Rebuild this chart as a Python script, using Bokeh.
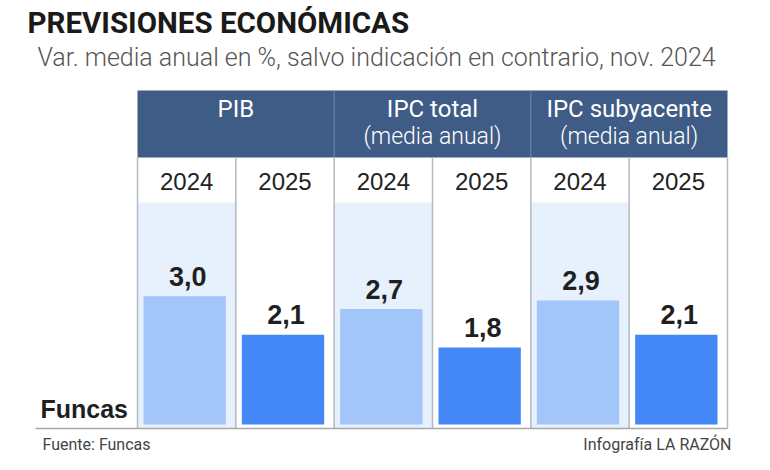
from bokeh.plotting import figure
from bokeh.models import Range1d
from bokeh.core.properties import value
from bokeh.embed import file_html
from bokeh.resources import INLINE

# ---------------- data ----------------
groups = ["PIB", "IPC total", "IPC subyacente"]
group_sub = ["", "(media anual)", "(media anual)"]
years = ["2024", "2025"]
values_2024 = [3.0, 2.7, 2.9]
values_2025 = [2.1, 1.8, 2.1]
value_labels_2024 = ["3,0", "2,7", "2,9"]
value_labels_2025 = ["2,1", "1,8", "2,1"]
title_text = "PREVISIONES ECONÓMICAS"
subtitle_text = "Var. media anual en %, salvo indicación en contrario, nov. 2024"
row_label = "Funcas"
footer_left = "Fuente: Funcas"
footer_right = "Infografía LA RAZÓN"

# ---------------- layout (pixels) ----------------
W, H = 754, 454
TABLE_L, TABLE_R = 137, 727
HEAD_T, HEAD_B = 90, 157
YEAR_B = 202
BASE = 424
BOTTOM_LINE = 428
PX_PER_UNIT = 42.75
LABEL_GAP = 10
BL = 0.37  # baseline compensation (fraction of font size)

HEADER_BLUE = "#3e5c85"
LIGHT_BG = "#e7f0fd"
BAR_LIGHT = "#a2c5fa"
BAR_DARK = "#4388f6"
GRID_GRAY = "#b3bac4"
TEXT_DARK = "#1f1f1f"


def by(baseline, size):
    return baseline - BL * size


p = figure(width=W, height=H,
           x_range=Range1d(0, W), y_range=Range1d(H, 0),
           output_backend="svg", toolbar_location=None, title_location=None,
           min_border=0, x_axis_location=None, y_axis_location=None)
p.grid.visible = False
p.outline_line_color = None
p.background_fill_color = "white"
p.border_fill_color = "white"
p.extra_y_ranges = {"val": Range1d((BASE - H) / PX_PER_UNIT, BASE / PX_PER_UNIT)}

ncols = len(groups) * len(years)
CW = (TABLE_R - TABLE_L) / ncols
col_left = [TABLE_L + i * CW for i in range(ncols)]
col_right = [TABLE_L + (i + 1) * CW for i in range(ncols)]
col_center = [TABLE_L + (i + 0.5) * CW for i in range(ncols)]
col_year = [years[i % len(years)] for i in range(ncols)]
col_value = []
col_label = []
for g in range(len(groups)):
    col_value += [values_2024[g], values_2025[g]]
    col_label += [value_labels_2024[g], value_labels_2025[g]]

# title / subtitle
p.text(x=[27], y=[by(33, 29.5)], text=[title_text], text_font=value("Roboto"),
       text_font_style="bold", text_font_size="29.5px", text_color="#1a1a1a",
       text_baseline="alphabetic", text_align="left")
p.text(x=[37], y=[by(66, 25)], text=[subtitle_text], text_font=value("Roboto Light"),
       text_font_size="25px", text_color="#555555",
       text_baseline="alphabetic", text_align="left")

# header band
p.quad(left=[TABLE_L], right=[TABLE_R], top=[HEAD_T], bottom=[HEAD_B],
       fill_color=HEADER_BLUE, line_color=None)
gw = CW * len(years)
g_left = [TABLE_L + g * gw for g in range(len(groups))]
g_center = [TABLE_L + (g + 0.5) * gw for g in range(len(groups))]
p.segment(x0=g_left[1:], x1=g_left[1:], y0=[HEAD_T] * (len(groups) - 1),
          y1=[HEAD_B] * (len(groups) - 1), line_color="#7089aa", line_width=1)
p.text(x=g_center, y=[by(117, 24)] * len(groups), text=groups, text_font=value("Roboto"),
       text_font_size="24px", text_color="white",
       text_baseline="alphabetic", text_align="center")
p.text(x=g_center, y=[by(145, 23)] * len(groups), text=group_sub,
       text_font=value("Roboto Light"), text_font_size="23px", text_color="white",
       text_baseline="alphabetic", text_align="center")

# light background for 2024 columns
bg_idx = [i for i in range(ncols) if col_year[i] == years[0]]
p.quad(left=[col_left[i] for i in bg_idx], right=[col_right[i] for i in bg_idx],
       top=[YEAR_B] * len(bg_idx), bottom=[BOTTOM_LINE] * len(bg_idx),
       fill_color=LIGHT_BG, line_color=None)

# year labels
p.text(x=col_center, y=[by(190, 24)] * ncols, text=col_year,
       text_font=value("Liberation Sans"),
       text_font_size="24px", text_color="#222222",
       text_baseline="alphabetic", text_align="center")

# bars
bar_l = [c + 6 for c in col_left]
bar_r = [c - 10 for c in col_right]
colors = [BAR_LIGHT if y == years[0] else BAR_DARK for y in col_year]
p.quad(left=bar_l, right=bar_r, bottom=[0] * ncols, top=col_value,
       fill_color=colors, line_color=None, y_range_name="val")
VAL_SIZE = 27
label_y = [v + (LABEL_GAP + BL * VAL_SIZE) / PX_PER_UNIT for v in col_value]
p.text(x=[(a + b) / 2 + 3 for a, b in zip(bar_l, bar_r)], y=label_y, text=col_label,
       text_font=value("Liberation Sans"), text_font_style="bold",
       text_font_size=f"{VAL_SIZE}px", text_color=TEXT_DARK,
       text_baseline="alphabetic", text_align="center", y_range_name="val")

# vertical grid lines
edges = [TABLE_L + i * CW for i in range(ncols + 1)]
p.segment(x0=edges, x1=edges, y0=[HEAD_B] * len(edges), y1=[BOTTOM_LINE] * len(edges),
          line_color=GRID_GRAY, line_width=1.5)
# bottom line
p.segment(x0=[35], x1=[TABLE_R], y0=[BOTTOM_LINE], y1=[BOTTOM_LINE],
          line_color="#a8a8a8", line_width=1.5)

# row label
p.text(x=[40], y=[by(418, 25)], text=[row_label], text_font=value("Liberation Sans"),
       text_font_style="bold", text_font_size="25px", text_color=TEXT_DARK,
       text_baseline="alphabetic", text_align="left")

# footers
p.text(x=[42], y=[by(450, 16)], text=[footer_left], text_font=value("Roboto"),
       text_font_size="16px", text_color="#444444",
       text_baseline="alphabetic", text_align="left")
p.text(x=[731], y=[by(450, 16)], text=[footer_right], text_font=value("Roboto"),
       text_font_size="16px", text_color="#444444",
       text_baseline="alphabetic", text_align="right")

open("out.html", "w").write(file_html(p, INLINE))
